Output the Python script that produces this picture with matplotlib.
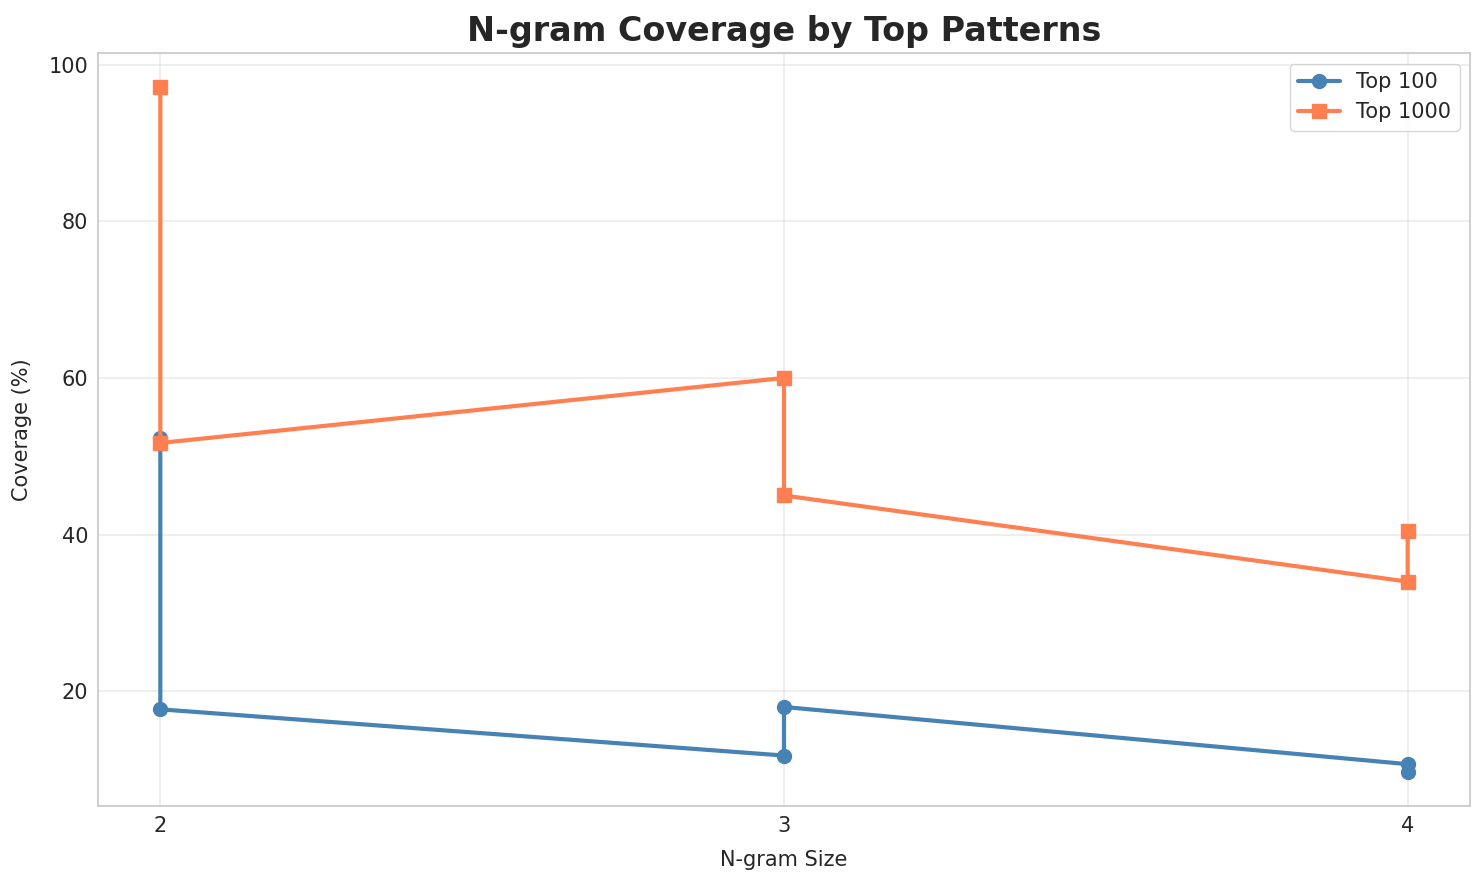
import matplotlib
matplotlib.use('Agg')
import matplotlib.pyplot as plt
import seaborn as sns

sns.set_style('whitegrid')

# n-gram sizes and coverage (%) per run, in plotted order
ngram_sizes = [2, 2, 3, 3, 4, 4]
top100_cov = [52.3, 17.7, 11.8, 18.0, 10.7, 9.7]
top1000_cov = [97.1, 51.7, 60.0, 45.0, 34.0, 40.5]

fig, ax = plt.subplots(figsize=(14.84, 8.85), dpi=100)

ax.plot(ngram_sizes, top100_cov, marker='o', linewidth=3, markersize=10,
        color='steelblue', label='Top 100')
ax.plot(ngram_sizes, top1000_cov, marker='s', linewidth=3, markersize=10,
        color='coral', label='Top 1000')

ax.set_xticks([2, 3, 4])
ax.set_xlabel('N-gram Size', fontsize=15, labelpad=10)
ax.set_ylabel('Coverage (%)', fontsize=15, labelpad=12)
ax.set_title('N-gram Coverage by Top Patterns', fontsize=24, fontweight='bold', pad=9)
ax.tick_params(labelsize=15)
ax.grid(True, alpha=0.35, linewidth=1.3)
for s in ax.spines.values():
    s.set_linewidth(1.3)
ax.legend(fontsize=15)

plt.subplots_adjust(left=0.066, right=0.9906, top=0.94, bottom=0.089)
plt.savefig('out.png', dpi=100)
plt.close()
